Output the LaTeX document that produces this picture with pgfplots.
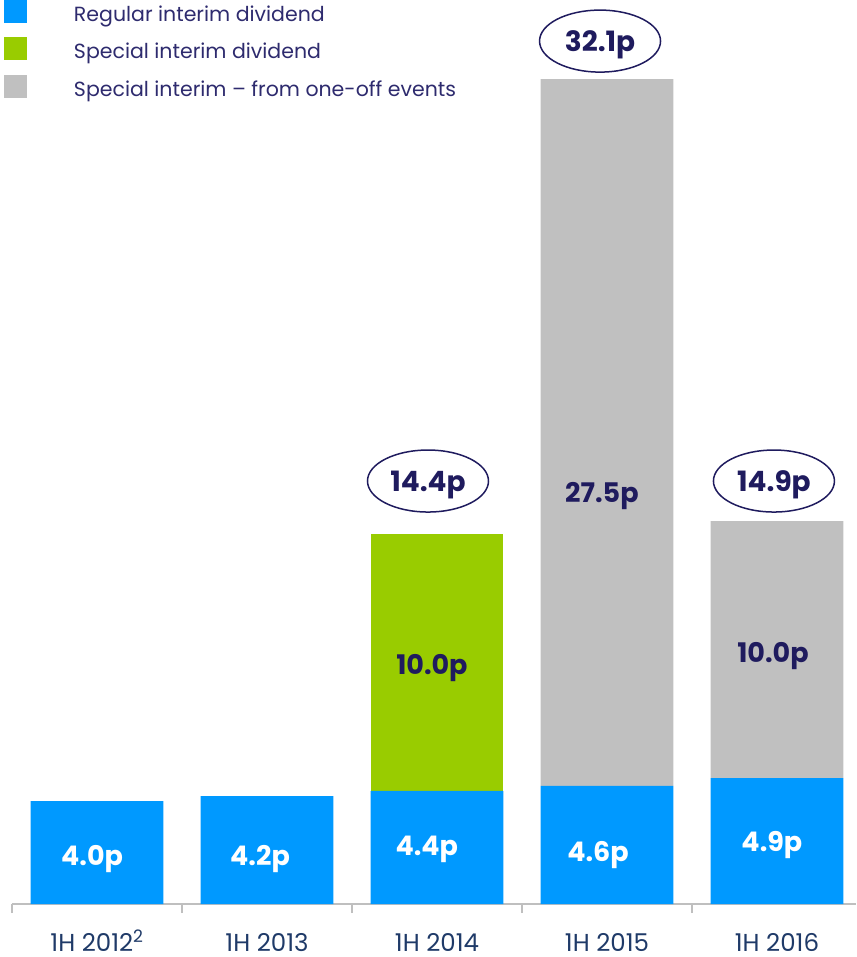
\documentclass[border=0pt]{standalone}
\usepackage{fontspec}
\setmainfont{Poppins}
\usepackage{pgfplots}
\pgfplotsset{compat=1.18}
\usepackage{pgfplotstable}
\usetikzlibrary{calc,shapes.geometric}
\definecolor{cblue}{HTML}{0099FF}
\definecolor{cgreen}{HTML}{99CC00}
\definecolor{cgrey}{HTML}{C0C0C0}
\definecolor{navy}{HTML}{1F1B5E}
\definecolor{legtext}{HTML}{2E2B6E}
\definecolor{ticktext}{HTML}{1F3A68}
\definecolor{axgrey}{HTML}{BFBFBF}

\pgfplotstableread{
x regular special oneoff
0 4.0 0 0
1 4.2 0 0
2 4.4 10.0 0
3 4.6 0 27.5
4 4.9 0 10.0
}\bars

\pgfplotstableread{
x y label
-0.029 1.89 4.0p
0.959 1.89 4.2p
1.94 2.26 4.4p
2.947 2.06 4.6p
3.97 2.45 4.9p
}\whitelabels

\pgfplotstableread{
x y label
1.97 9.34 10.0p
2.97 16.03 27.5p
3.976 9.79 10.0p
}\navylabels

\pgfplotstableread{
x y label
1.947 16.46 14.4p
2.959 33.58 32.1p
3.982 16.46 14.9p
}\totals

\pgfplotsset{
  myaxis/.style={scale only axis, width=844pt, height=904pt,
    xmin=-0.5, xmax=4.4647, ymin=0, ymax=35.18},
  sqlegend/.style={legend image code/.code={\fill[##1,draw=none] (0pt,-9pt) rectangle (23pt,14pt);}},
}

\begin{document}
\begin{tikzpicture}
\begin{axis}[myaxis, name=ax,
  ybar stacked, bar width=0.78,
  axis x line=bottom, axis y line=none,
  axis line style={draw=axgrey, line width=1.6pt, -},
  xtick={0,...,4},
  xticklabels={1H 2012\textsuperscript{2}, 1H 2013, 1H 2014, 1H 2015, 1H 2016},
  major tick length=0pt,
  minor xtick={-0.5,0.5,1.5,2.5,3.5},
  minor tick length=9pt, tick align=outside,
  minor tick style={draw=axgrey, line width=1.6pt},
  xticklabel style={font=\fontsize{24.5}{28}\selectfont, text=ticktext,
    inner sep=0pt, text height=18pt, text depth=0pt, anchor=north, yshift=-29pt},
  legend style={at={(rel axis cs:-0.0095,1.0)}, anchor=north west,
    draw=none, fill=none, inner sep=0pt, outer sep=0pt,
    row sep=14.5pt, column sep=47pt,
    font=\fontsize{20.5}{24}\selectfont, text=legtext,
    cells={anchor=west}, nodes={inner sep=0pt}},
]
\addplot[fill=cblue, draw=none, sqlegend] table[x=x, y=regular] {\bars};
\addlegendentry{Regular interim dividend}
\addplot[fill=cgreen, draw=none, sqlegend] table[x=x, y=special] {\bars};
\addlegendentry{Special interim dividend}
\addplot[fill=cgrey, draw=none, sqlegend] table[x=x, y=oneoff] {\bars};
\addlegendentry{Special interim -- from one-off events}
\end{axis}
\begin{axis}[myaxis, hide axis, clip=false]
\addplot[draw=none, mark=none, nodes near coords, point meta=explicit symbolic,
  nodes near coords align=center,
  every node near coord/.style={anchor=center, font=\bfseries\fontsize{27}{30}\selectfont, text=white, text depth=0pt, inner sep=0pt}]
  table[x=x, y=y, meta=label] {\whitelabels};
\addplot[draw=none, mark=none, nodes near coords, point meta=explicit symbolic,
  nodes near coords align=center,
  every node near coord/.style={anchor=center, font=\bfseries\fontsize{27}{30}\selectfont, text=navy, text depth=0pt, inner sep=0pt}]
  table[x=x, y=y, meta=label] {\navylabels};
\addplot[draw=none, mark=none, nodes near coords, point meta=explicit symbolic,
  nodes near coords align=center,
  every node near coord/.style={anchor=center, ellipse, draw=navy, line width=1.5pt,
    minimum width=121pt, minimum height=62pt, inner sep=0pt,
    font=\bfseries\fontsize{28}{31}\selectfont, text=navy, text depth=0pt}]
  table[x=x, y=y, meta=label] {\totals};
\end{axis}
\pgfresetboundingbox
\useasboundingbox ($(ax.south west)+(-12pt,-53pt)$) rectangle (ax.north east);
\end{tikzpicture}
\end{document}
